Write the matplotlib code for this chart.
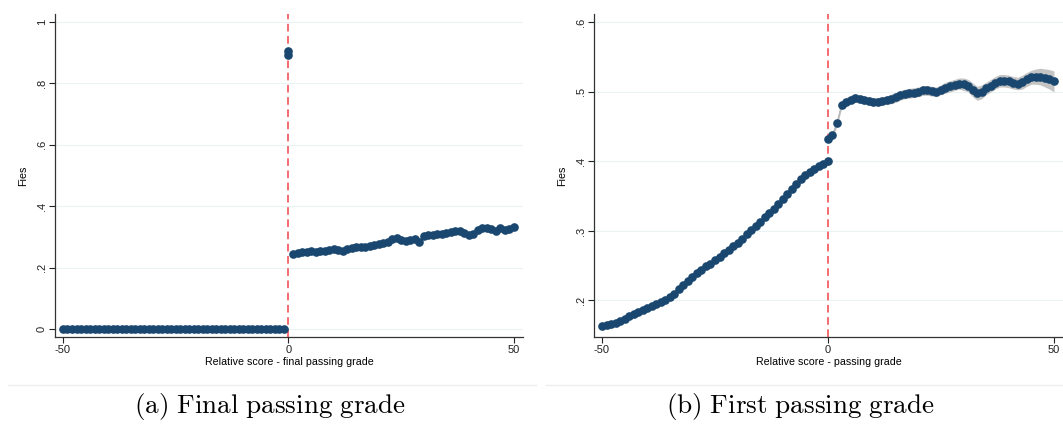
import numpy as np
import matplotlib
matplotlib.use("Agg")
import matplotlib.pyplot as plt
from matplotlib.lines import Line2D

plt.rcParams['font.family'] = ['Liberation Sans', 'DejaVu Sans']
plt.rcParams['mathtext.fontset'] = 'cm'

# panel (a): final passing grade
xa_left = list(range(-50, 0))
ya_left = [0.0] * 50
xa_jump = [0, 0]
ya_jump = [0.893, 0.905]
xa_right = list(range(1, 51))
ya_right = [0.244, 0.247, 0.250, 0.251, 0.253, 0.252, 0.255, 0.254, 0.257, 0.262,
            0.258, 0.253, 0.262, 0.265, 0.266, 0.266, 0.268, 0.271, 0.273, 0.276,
            0.280, 0.284, 0.292, 0.298, 0.290, 0.286, 0.290, 0.293, 0.284, 0.303,
            0.305, 0.307, 0.308, 0.310, 0.312, 0.316, 0.318, 0.318, 0.314, 0.305,
            0.310, 0.322, 0.328, 0.329, 0.326, 0.320, 0.329, 0.322, 0.327, 0.331]

# panel (b): first passing grade
xb_left = list(range(-50, 1))
yb_left = [0.163, 0.165, 0.166, 0.168, 0.171, 0.174, 0.177, 0.180, 0.183, 0.186,
           0.189, 0.192, 0.195, 0.198, 0.201, 0.205, 0.210, 0.216, 0.222, 0.228,
           0.234, 0.239, 0.244, 0.249, 0.253, 0.258, 0.263, 0.268, 0.273, 0.278,
           0.283, 0.289, 0.295, 0.301, 0.307, 0.313, 0.320, 0.326, 0.332, 0.339,
           0.346, 0.353, 0.360, 0.367, 0.374, 0.380, 0.385, 0.389, 0.393, 0.397,
           0.401]
xb_right = list(range(0, 51))
yb_right = [0.432, 0.438, 0.455, 0.481, 0.486, 0.489, 0.491, 0.490, 0.488, 0.487,
            0.486, 0.486, 0.487, 0.488, 0.490, 0.492, 0.495, 0.497, 0.498, 0.499,
            0.500, 0.502, 0.502, 0.501, 0.500, 0.503, 0.506, 0.508, 0.510, 0.512,
            0.511, 0.509, 0.503, 0.498, 0.500, 0.505, 0.509, 0.513, 0.516, 0.516,
            0.515, 0.513, 0.512, 0.514, 0.518, 0.521, 0.522, 0.522, 0.520, 0.518,
            0.515]
# half width of the confidence band on the right segment
hw_right = [0.004, 0.004, 0.004, 0.005, 0.006, 0.006, 0.006, 0.006, 0.006, 0.006,
            0.006, 0.006, 0.006, 0.006, 0.007, 0.007, 0.007, 0.007, 0.007, 0.007,
            0.007, 0.007, 0.007, 0.007, 0.007, 0.007, 0.008, 0.008, 0.008, 0.008,
            0.009, 0.009, 0.010, 0.010, 0.010, 0.009, 0.009, 0.009, 0.009, 0.009,
            0.009, 0.009, 0.009, 0.010, 0.010, 0.010, 0.011, 0.012, 0.013, 0.014,
            0.015]

navy = '#1a476f'
grid = '#eaf2f3'
W, H = 1063, 429
MS = 5.2

fig = plt.figure(figsize=(W / 100, H / 100), dpi=100)


def style(ax, ylim, yticks, ylabels, xlabel):
    ax.set_xlim(-51.77, 52)
    ax.set_ylim(*ylim)
    ax.set_xticks([-50, 0, 50])
    ax.set_xticklabels(['-50', '0', '50'], fontsize=8)
    ax.set_yticks(yticks)
    ax.set_yticklabels(ylabels, fontsize=8, rotation=90, va='center')
    for t in yticks:
        ax.axhline(t, color=grid, lw=0.8, zorder=0)
    for s in ['top', 'right']:
        ax.spines[s].set_visible(False)
    for s in ['left', 'bottom']:
        ax.spines[s].set_linewidth(0.9)
        ax.spines[s].set_color('#333333')
    ax.tick_params(length=4, width=0.8, pad=2, colors='#222222')
    ax.set_xlabel(xlabel, fontsize=7.7, labelpad=1)
    ax.set_ylabel('Fies', fontsize=7.7, labelpad=6)
    ax.axvline(0, color='#f0444a', lw=1.1, ls=(0, (5, 3)), zorder=1)


axa = fig.add_axes([55 / W, 1 - 337 / H, (523 - 55) / W, (337 - 14) / H])
style(axa, (-0.026, 1.026), [0, 0.2, 0.4, 0.6, 0.8, 1],
      ['0', '.2', '.4', '.6', '.8', '1'], 'Relative score - final passing grade')
axa.plot(xa_left, ya_left, 'o-', color=navy, ms=MS, lw=1, zorder=3)
axa.plot(xa_jump, ya_jump, 'o-', color=navy, ms=MS, lw=1, zorder=3)
axa.plot(xa_right, ya_right, 'o-', color=navy, ms=MS, lw=1, zorder=3)

axb = fig.add_axes([594 / W, 1 - 337 / H, (1063 - 594) / W, (337 - 14) / H])
style(axb, (0.1475, 0.612), [0.2, 0.3, 0.4, 0.5, 0.6],
      ['.2', '.3', '.4', '.5', '.6'], 'Relative score - passing grade')
yb_r = np.array(yb_right)
hw = np.array(hw_right)
axb.fill_between(xb_right, yb_r - hw, yb_r + hw, color='#c4c4c4', lw=0, zorder=2)
axb.plot(xb_left, yb_left, '-', color='#b8b8b8', lw=1, zorder=2)
axb.plot(xb_right, yb_right, '-', color='#b8b8b8', lw=1, zorder=2)
axb.plot(xb_left, yb_left, 'o', color=navy, ms=MS, zorder=3)
axb.plot(xb_right, yb_right, 'o', color=navy, ms=MS, zorder=3)

# graph region borders
fig.add_artist(Line2D([8 / W, 536 / W], [1 - 385 / H] * 2, color='#eeeeee', lw=1))
fig.add_artist(Line2D([546 / W, 1.0], [1 - 385 / H] * 2, color='#eeeeee', lw=1))

fig.text(270 / W, 1 - 406 / H, r'$\mathrm{(a)\ Final\ passing\ grade}$',
         ha='center', va='center', fontsize=19.5)
fig.text(800 / W, 1 - 406 / H, r'$\mathrm{(b)\ First\ passing\ grade}$',
         ha='center', va='center', fontsize=19.5)

fig.savefig('out.png', dpi=100)
